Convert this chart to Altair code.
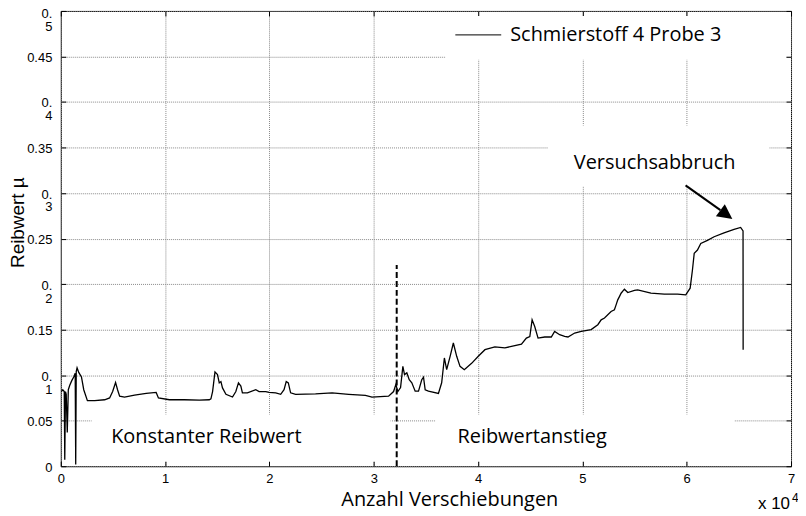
import altair as alt
import pandas as pd

# ---------------- data (x in units of 10^4 Verschiebungen) ----------------
verschiebungen = [
    0.005, 0.019, 0.033, 0.038, 0.045, 0.052, 0.062, 0.072, 0.086, 0.105,
    0.124, 0.138, 0.143, 0.148, 0.156, 0.172, 0.198, 0.220, 0.255, 0.325,
    0.420, 0.468, 0.497, 0.525, 0.544, 0.564, 0.611, 0.707, 0.819, 0.914,
    0.936, 1.041, 1.184, 1.328, 1.423, 1.439, 1.455, 1.478, 1.502, 1.519,
    1.535, 1.550, 1.583, 1.646, 1.678, 1.703, 1.726, 1.741, 1.789, 1.869,
    1.901, 1.965, 1.996, 2.060, 2.108, 2.140, 2.161, 2.181, 2.203, 2.251,
    2.442, 2.601, 2.760, 2.920, 2.983, 3.142, 3.190, 3.212, 3.231, 3.257,
    3.279, 3.295, 3.317, 3.340, 3.365, 3.397, 3.429, 3.460, 3.477, 3.493,
    3.524, 3.620, 3.651, 3.677, 3.699, 3.732, 3.763, 3.795, 3.827, 3.868,
    3.938, 4.002, 4.066, 4.161, 4.257, 4.320, 4.416, 4.463, 4.496, 4.518,
    4.543, 4.575, 4.639, 4.702, 4.734, 4.782, 4.830, 4.862, 4.926, 4.989,
    5.084, 5.148, 5.180, 5.212, 5.275, 5.307, 5.323, 5.339, 5.355, 5.371,
    5.403, 5.435, 5.499, 5.530, 5.657, 5.785, 5.912, 5.991, 6.033, 6.055,
    6.072, 6.103, 6.135, 6.199, 6.263, 6.358, 6.454, 6.517, 6.540, 6.541,
]
reibwert = [
    0.082, 0.084, 0.082, 0.007, 0.082, 0.079, 0.037, 0.084, 0.089, 0.094,
    0.098, 0.102, 0.002, 0.104, 0.108, 0.103, 0.098, 0.084, 0.072, 0.072,
    0.073, 0.075, 0.082, 0.092, 0.084, 0.077, 0.076, 0.078, 0.080, 0.081,
    0.075, 0.073, 0.073, 0.0725, 0.073, 0.074, 0.082, 0.1036, 0.1007, 0.0915,
    0.093, 0.086, 0.079, 0.076, 0.082, 0.0915, 0.088, 0.0806, 0.0806, 0.084,
    0.082, 0.082, 0.081, 0.0806, 0.079, 0.084, 0.093, 0.0915, 0.0806, 0.079,
    0.0795, 0.0806, 0.079, 0.0777, 0.0759, 0.077, 0.082, 0.0897, 0.082, 0.0864,
    0.1097, 0.1007, 0.1025, 0.095, 0.0916, 0.0824, 0.0824, 0.095, 0.0977, 0.084,
    0.0824, 0.080, 0.0916, 0.1189, 0.106, 0.1207, 0.1353, 0.1207, 0.1097, 0.106,
    0.113, 0.1207, 0.128, 0.131, 0.130, 0.1316, 0.134, 0.1407, 0.1425, 0.1608,
    0.1535, 0.1407, 0.1419, 0.1419, 0.148, 0.1444, 0.1426, 0.1419, 0.1463, 0.148,
    0.150, 0.1554, 0.1608, 0.1627, 0.170, 0.1718, 0.1772, 0.1827, 0.1863, 0.190,
    0.1944, 0.1907, 0.193, 0.1937, 0.190, 0.189, 0.189, 0.1882, 0.1955, 0.2155,
    0.2338, 0.2374, 0.2447, 0.248, 0.252, 0.2563, 0.260, 0.2622, 0.2585, 0.128,
]

x_ticks = [0, 1, 2, 3, 4, 5, 6, 7]
y_ticks = [0, 0.05, 0.1, 0.15, 0.2, 0.25, 0.3, 0.35, 0.4, 0.45, 0.5]

x_title = "Anzahl Verschiebungen"
y_title = "Reibwert µ"
legend_label = "Schmierstoff 4 Probe 3"

annot_text = ["Konstanter Reibwert", "Reibwertanstieg", "Versuchsabbruch"]
annot_x = [1.395, 4.518, 5.692]
annot_y = [0.0317, 0.0317, 0.3326]

# white label boxes hiding the grid
box_x = [0.296, 3.591, 3.687, 4.67]
box_x2 = [3.161, 6.457, 6.952, 6.791]
box_y = [0.0055, 0.0055, 0.4464, 0.3074]
box_y2 = [0.0569, 0.0569, 0.4945, 0.3742]

dash_x = [3.22]
dash_y2 = [0.221]

legend_line_x = [3.782]
legend_line_x2 = [4.222]
legend_y = [0.4737]
legend_text_x = [4.308]

arrow_x = [5.989]
arrow_y = [0.3085]
arrow_x2 = [6.323]
arrow_y2 = [0.2812]
head_x = [6.380]
head_y = [0.2763]

# ---------------- chart ----------------
FONT = "Open Sans"
NUMFONT = "Liberation Sans"
GRID = "#8a8a8a"
NB = "\u00a0"

xs = alt.Scale(domain=[0, 7], nice=False, zero=False)
ys = alt.Scale(domain=[0, 0.5], nice=False, zero=False)

label_expr = (
    "datum.value == 0 ? '0' : "
    "(abs(datum.value*10 - round(datum.value*10)) < 0.001 ? "
    f"['0.{NB}{NB}', format(datum.value*10, 'd') + '{NB}{NB}{NB}'] : "
    "format(datum.value, '.2f'))"
)

x_main = alt.Axis(
    values=x_ticks, grid=True, gridDash=[1, 1], gridColor=GRID, gridWidth=1,
    domain=False, ticks=True, tickSize={"expr": "-5"}, tickColor="black",
    labelPadding=11, labelFlush=False, labelOverlap=False,
    labelFont=NUMFONT, labelFontSize=13, labelColor="black",
    title=x_title, titleFont=FONT, titleFontSize=20, titleFontWeight="normal",
    titleColor="black", titleX=390, titleY=39, titleAlign="center",
    titleBaseline="alphabetic",
)
y_main = alt.Axis(
    values=y_ticks, grid=True, gridDash=[1, 1], gridColor=GRID, gridWidth=1,
    domain=False, ticks=True, tickSize={"expr": "-5"}, tickColor="black",
    labelAlign="right", labelBaseline="middle", labelOverlap=False, labelFlush=False,
    labelPadding=14, labelLineHeight=13,
    labelOffset={"condition": {"test": "datum.value >= 0.499", "value": 3}, "value": 1},
    labelExpr=label_expr,
    labelFont=NUMFONT, labelFontSize=13, labelColor="black",
    title=y_title, titleFont=NUMFONT, titleFontSize=19, titleFontWeight="normal",
    titleColor="black", titleX=-37, titleY=212, titleAlign="center",
    titleBaseline="alphabetic", titleAngle=270,
)
x_top = alt.Axis(orient="top", values=x_ticks, labels=False, grid=False, domain=False,
                 ticks=True, tickSize={"expr": "-5"}, tickColor="black", title=None)
y_right = alt.Axis(orient="right", values=y_ticks, labels=False, grid=False, domain=False,
                   ticks=True, tickSize={"expr": "-5"}, tickColor="black", title=None)

boxes = pd.DataFrame({"x": box_x, "x2": box_x2, "y": box_y, "y2": box_y2})

box_layer = alt.Chart(boxes).mark_rect(fill="white", stroke=None).encode(
    x=alt.X("x:Q", scale=xs, axis=x_main), x2="x2:Q",
    y=alt.Y("y:Q", scale=ys, axis=y_main), y2="y2:Q",
)
tick_layer = alt.Chart(boxes).mark_rect(opacity=0).encode(
    x=alt.X("x:Q", scale=xs, axis=x_top), x2="x2:Q",
    y=alt.Y("y:Q", scale=ys, axis=y_right), y2="y2:Q",
)

curve = pd.DataFrame({"x": verschiebungen, "y": reibwert, "i": range(len(reibwert))})
line_layer = alt.Chart(curve).mark_line(color="black", strokeWidth=1.3, clip=True).encode(
    x=alt.X("x:Q", scale=xs, axis=None),
    y=alt.Y("y:Q", scale=ys, axis=None),
    order="i:Q",
)

dash_df = pd.DataFrame({"x": dash_x, "y": [0], "y2": dash_y2})
dash_layer = alt.Chart(dash_df).mark_rule(color="black", strokeWidth=2, strokeDash=[6, 3]).encode(
    x=alt.X("x:Q", scale=xs, axis=None),
    y=alt.Y("y:Q", scale=ys, axis=None), y2="y2:Q",
)

leg_df = pd.DataFrame({"x": legend_line_x, "x2": legend_line_x2, "y": legend_y,
                       "tx": legend_text_x, "t": [legend_label]})
leg_line = alt.Chart(leg_df).mark_rule(color="black", strokeWidth=1).encode(
    x=alt.X("x:Q", scale=xs, axis=None), x2="x2:Q",
    y=alt.Y("y:Q", scale=ys, axis=None),
)
leg_text = alt.Chart(leg_df).mark_text(font=FONT, fontSize=20, align="left",
                                        baseline="middle", color="black").encode(
    x=alt.X("tx:Q", scale=xs, axis=None),
    y=alt.Y("y:Q", scale=ys, axis=None),
    text="t:N",
)

ann_df = pd.DataFrame({"x": annot_x, "y": annot_y, "t": annot_text})
ann_layer = alt.Chart(ann_df).mark_text(font=FONT, fontSize=20, align="center",
                                         baseline="middle", color="black").encode(
    x=alt.X("x:Q", scale=xs, axis=None),
    y=alt.Y("y:Q", scale=ys, axis=None),
    text="t:N",
)

arr_df = pd.DataFrame({"x": arrow_x, "y": arrow_y, "x2": arrow_x2, "y2": arrow_y2})
arrow_line = alt.Chart(arr_df).mark_rule(color="black", strokeWidth=2).encode(
    x=alt.X("x:Q", scale=xs, axis=None), x2="x2:Q",
    y=alt.Y("y:Q", scale=ys, axis=None), y2="y2:Q",
)
head_df = pd.DataFrame({"x": head_x, "y": head_y})
arrow_head = alt.Chart(head_df).mark_point(
    shape="M -1 -1 L 1 0 L -1 1 Z", size=225, angle=36.7, filled=True,
    color="black", opacity=1, strokeWidth=0,
).encode(
    x=alt.X("x:Q", scale=xs, axis=None),
    y=alt.Y("y:Q", scale=ys, axis=None),
)

exp_df = pd.DataFrame({"t": ["x 10"], "e": ["4"]})
exp_main = alt.Chart(exp_df).mark_text(font=NUMFONT, fontSize=17, align="right",
                                        baseline="alphabetic", color="black").encode(
    x=alt.value(732), y=alt.value(500), text="t:N")
exp_sup = alt.Chart(exp_df).mark_text(font=NUMFONT, fontSize=12, align="left",
                                       baseline="alphabetic", color="black").encode(
    x=alt.value(734), y=alt.value(493), text="e:N")

chart = alt.layer(
    box_layer, tick_layer, line_layer, dash_layer, leg_line, leg_text,
    ann_layer, arrow_line, arrow_head, exp_main, exp_sup,
).resolve_axis(x="independent", y="independent").properties(
    width=733, height=457,
    autosize=alt.AutoSizeParams(type="none"),
    padding={"left": 53, "top": 2, "right": 7, "bottom": 45},
    background="white",
).configure_view(stroke="black", strokeWidth=1)

chart.save("out.html", embed_options={"renderer": "svg", "actions": False})
